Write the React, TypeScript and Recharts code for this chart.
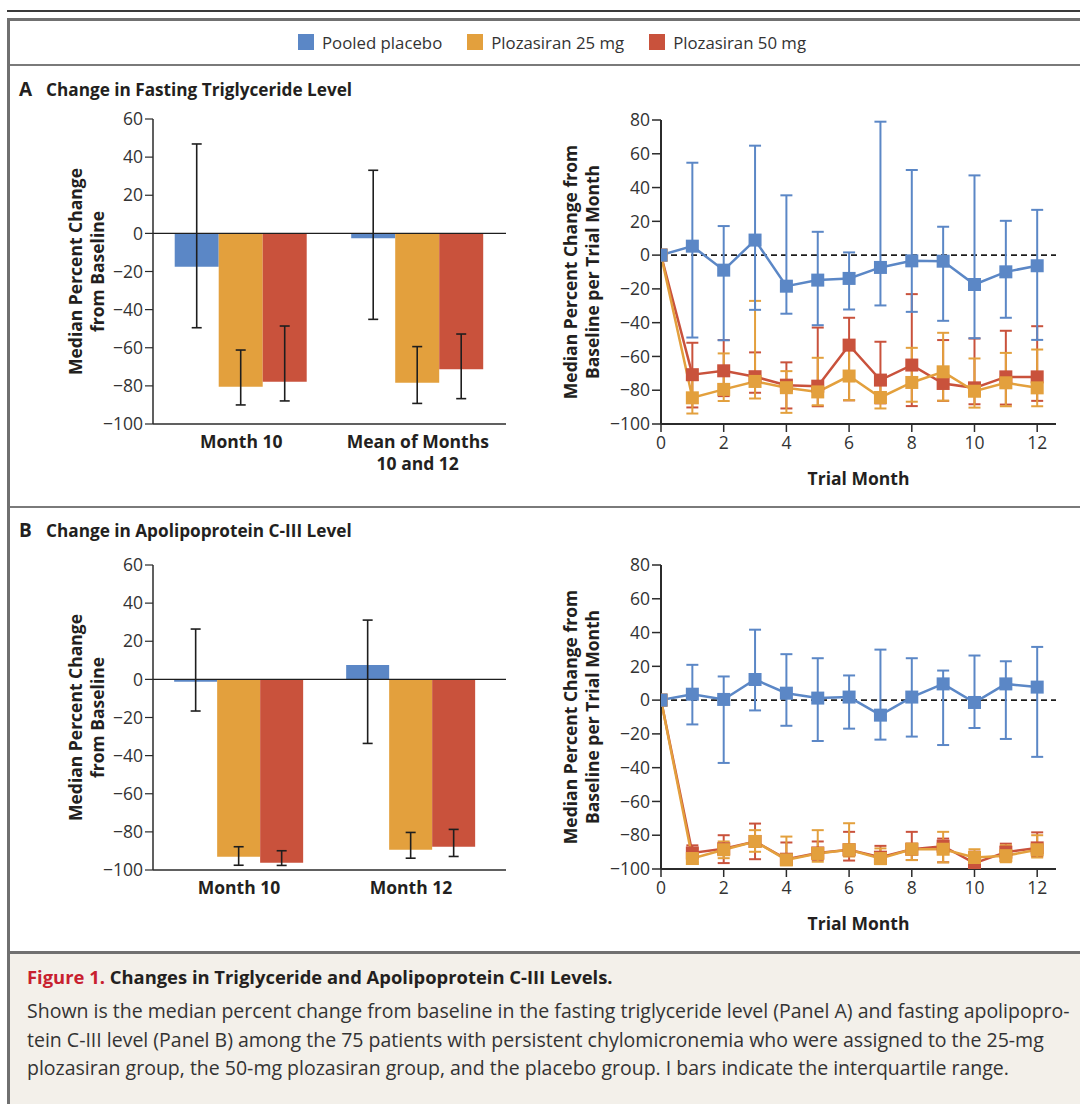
import React from 'react';
import { ComposedChart, Bar, Line, XAxis, YAxis, ErrorBar, ReferenceLine } from 'recharts';

// ---------------- data ----------------
const seriesNames = ['Pooled placebo', 'Plozasiran 25 mg', 'Plozasiran 50 mg'];

// Panel A – bars (median % change, interquartile range)
const barCatsA = ['Month 10', 'Mean of Months\n10 and 12'];
const barA_placebo = [-17.5, -2.5];
const barA_placeboQ1 = [-49.5, -45.1];
const barA_placeboQ3 = [46.9, 33.1];
const barA_25 = [-80.4, -78.3];
const barA_25Q1 = [-90, -89.2];
const barA_25Q3 = [-61.2, -59.4];
const barA_50 = [-77.8, -71.3];
const barA_50Q1 = [-87.9, -86.7];
const barA_50Q3 = [-48.6, -52.8];

// Panel B – bars
const barCatsB = ['Month 10', 'Month 12'];
const barB_placebo = [-1.2, 7.5];
const barB_placeboQ1 = [-16.6, -33.6];
const barB_placeboQ3 = [26.4, 31.1];
const barB_25 = [-93.1, -89.4];
const barB_25Q1 = [-97.5, -93.8];
const barB_25Q3 = [-87.8, -80.3];
const barB_50 = [-96.2, -87.8];
const barB_50Q1 = [-97.6, -92.9];
const barB_50Q3 = [-89.9, -78.7];

// Trial months
const months = [0, 1, 2, 3, 4, 5, 6, 7, 8, 9, 10, 11, 12];
const monthTicks = [0, 2, 4, 6, 8, 10, 12];

// Panel A – lines
const lineA_placebo = [0, 5.3, -8.9, 8.9, -18.4, -14.8, -13.8, -7.3, -3.4, -3.6, -17.4, -9.9, -6.3];
const lineA_placeboQ1 = [null, -48.8, -50.4, -32.4, -34.7, -41.5, -32.2, -29.8, -33.6, -38.9, -49.2, -37.1, -50.2];
const lineA_placeboQ3 = [null, 54.7, 17.2, 64.8, 35.4, 13.8, 1.6, 79, 50.4, 16.8, 47.2, 20.3, 26.8];
const lineA_25 = [0, -84.5, -79.5, -74.8, -78.5, -81, -71.6, -84.3, -75.4, -69.1, -80.6, -75.6, -78.6];
const lineA_25Q1 = [null, -93.8, -86.4, -84.9, -93.4, -88.9, -85.9, -90.8, -86.8, -86.2, -90.3, -89.5, -89.5];
const lineA_25Q3 = [null, -74, -58.2, -27.1, -68.7, -60.8, -55.3, -76, -54.9, -46, -61.2, -57.9, -55.9];
const lineA_50 = [0, -70.8, -68.5, -72, -77, -77.6, -53.3, -74, -65.1, -76, -78.6, -72.1, -72.1];
const lineA_50Q1 = [null, -90.2, -83.5, -81.5, -90.8, -89.5, -86, -87.8, -89.4, -86.3, -88.3, -88.5, -86.3];
const lineA_50Q3 = [null, -51.9, -50.3, -57.6, -63.5, -42.9, -37.1, -51.3, -23.1, -50.3, -49.4, -44.8, -42.1];

// Panel B – lines
const lineB_placebo = [0, 3.5, 0.4, 12.2, 4.1, 1.2, 1.8, -8.9, 1.8, 9.6, -1.4, 9.6, 7.7];
const lineB_placeboQ1 = [null, -14.4, -37.2, -6.1, -15.2, -24.2, -16.9, -23.4, -21.6, -26.6, -16.5, -23, -33.6];
const lineB_placeboQ3 = [null, 20.9, 14, 41.7, 27.2, 24.8, 14.6, 29.9, 24.8, 17.5, 26.4, 23, 31.5];
const lineB_25 = [0, -93.8, -88.6, -83.7, -94.6, -90.8, -88.6, -93.8, -88.3, -88.3, -93.2, -92.1, -88.6];
const lineB_25Q1 = [null, -97, -93.6, -89.8, -97.7, -95.7, -92.6, -97.1, -94.7, -96.1, -97.7, -96, -93.2];
const lineB_25Q3 = [null, -88, -83.7, -77, -80.8, -77, -72.9, -87.8, -85, -78, -88.3, -86, -80];
const lineB_50 = [0, -90.5, -88, -83.7, -94.2, -90.5, -88.6, -93, -88.3, -86.5, -96.5, -90, -87.5];
const lineB_50Q1 = [null, -96, -96.5, -94.2, -97.5, -94.6, -95, -97, -94.7, -96, -98.5, -95, -92.5];
const lineB_50Q3 = [null, -86, -80, -73.1, -84.3, -83.7, -78, -86.3, -78, -82, -89.7, -85, -78.3];

const barTicks = [-100, -80, -60, -40, -20, 0, 20, 40, 60];
const lineTicks = [-100, -80, -60, -40, -20, 0, 20, 40, 60, 80];

// ---------------- styles ----------------
const FONT = '"Open Sans", "Noto Sans", sans-serif';
const C_BLUE = '#5b87c6';
const C_ORANGE = '#e3a03d';
const C_RED = '#c9523c';
const TEXT = '#231f20';
const AXIS = '#2b2b2b';
const LABEL_SIZE = 17.5;

// ---------------- builders ----------------
const err = (v: number, q1: number | null, q3: number | null) =>
  q1 == null || q3 == null ? null : [v - q1, q3 - v];

const buildBars = (cats: string[], p: number[], pq1: number[], pq3: number[], a: number[], aq1: number[], aq3: number[], b: number[], bq1: number[], bq3: number[]) =>
  cats.map((cat, i) => ({
    cat,
    placebo: p[i], placeboErr: err(p[i], pq1[i], pq3[i]),
    d25: a[i], d25Err: err(a[i], aq1[i], aq3[i]),
    d50: b[i], d50Err: err(b[i], bq1[i], bq3[i]),
  }));

const buildLines = (p: number[], pq1: (number | null)[], pq3: (number | null)[], a: number[], aq1: (number | null)[], aq3: (number | null)[], b: number[], bq1: (number | null)[], bq3: (number | null)[]) =>
  months.map((m, i) => ({
    month: m,
    placebo: p[i], placeboErr: err(p[i], pq1[i], pq3[i]),
    d25: a[i], d25Err: err(a[i], aq1[i], aq3[i]),
    d50: b[i], d50Err: err(b[i], bq1[i], bq3[i]),
  }));

const barDataA = buildBars(barCatsA, barA_placebo, barA_placeboQ1, barA_placeboQ3, barA_25, barA_25Q1, barA_25Q3, barA_50, barA_50Q1, barA_50Q3);
const barDataB = buildBars(barCatsB, barB_placebo, barB_placeboQ1, barB_placeboQ3, barB_25, barB_25Q1, barB_25Q3, barB_50, barB_50Q1, barB_50Q3);
const lineDataA = buildLines(lineA_placebo, lineA_placeboQ1, lineA_placeboQ3, lineA_25, lineA_25Q1, lineA_25Q3, lineA_50, lineA_50Q1, lineA_50Q3);
const lineDataB = buildLines(lineB_placebo, lineB_placeboQ1, lineB_placeboQ3, lineB_25, lineB_25Q1, lineB_25Q3, lineB_50, lineB_50Q1, lineB_50Q3);

const fmt = (v: any) => String(v).replace('-', '\u2212');

const tickStyle = { fontSize: 17.5, fill: '#333', fontFamily: FONT };

const CategoryTick = (props: any) => {
  const { x, y, payload } = props;
  const lines = String(payload.value).split('\n');
  return (
    <g>
      {lines.map((l, i) => (
        <text key={i} x={x} y={y + 17 + i * 22} textAnchor="middle" dominantBaseline="central"
          fontSize={LABEL_SIZE} fontWeight={700} fill={TEXT} fontFamily={FONT}>{l}</text>
      ))}
    </g>
  );
};

const makeYLabel = (lines: string[], dxs: number[]) => (props: any) => {
  const vb = props.viewBox || {};
  const cy = (vb.y ?? 0) + (vb.height ?? 0) / 2;
  return (
    <g>
      {lines.map((l, i) => {
        const x = (vb.x ?? 0) + dxs[i];
        return (
          <text key={i} x={x} y={cy} transform={`rotate(-90 ${x} ${cy})`} textAnchor="middle"
            dominantBaseline="central" fontSize={LABEL_SIZE} fontWeight={700} fill={TEXT} fontFamily={FONT}>{l}</text>
        );
      })}
    </g>
  );
};

const xLabel = (text: string) => (props: any) => {
  const vb = props.viewBox || {};
  const cx = (vb.x ?? 0) + (vb.width ?? 0) / 2;
  return (
    <text x={cx} y={(vb.y ?? 0) + 54} textAnchor="middle" dominantBaseline="central"
      fontSize={LABEL_SIZE} fontWeight={700} fill={TEXT} fontFamily={FONT}>{text}</text>
  );
};

const squareDot = (color: string) => (p: any) => {
  if (p.cx == null || p.cy == null) return <g key={`e-${p.index}`} />;
  return <rect key={`sq-${p.index}`} x={p.cx - 6.5} y={p.cy - 6.5} width={13} height={13} fill={color} />;
};

const BarPanel = ({ data, padRight }: { data: any[]; padRight: number }) => (
  <ComposedChart width={540} height={380} data={data} margin={{ top: 19, right: 34, left: 103, bottom: 0 }}
    barCategoryGap="12.3%" barGap={0}>
    <XAxis dataKey="cat" type="category" height={56} tickLine={false} tickSize={0} tickMargin={0}
      tick={<CategoryTick />} axisLine={{ stroke: AXIS, strokeWidth: 1.5 }} padding={{ left: 0, right: padRight }}
      interval={0} />
    <YAxis type="number" domain={[-100, 60]} ticks={barTicks} allowDataOverflow width={50}
      tickFormatter={fmt} tick={tickStyle} tickSize={8} tickMargin={2}
      axisLine={{ stroke: AXIS, strokeWidth: 1.5 }} tickLine={{ stroke: AXIS, strokeWidth: 1.2 }}
      label={{ content: makeYLabel(['Median Percent Change', 'from Baseline'], [-28, -6]) }} />
    <Bar dataKey="placebo" name={seriesNames[0]} fill={C_BLUE} isAnimationActive={false}>
      <ErrorBar dataKey="placeboErr" direction="y" width={5} stroke="#1e1e1e" strokeWidth={1.6} />
    </Bar>
    <Bar dataKey="d25" name={seriesNames[1]} fill={C_ORANGE} isAnimationActive={false}>
      <ErrorBar dataKey="d25Err" direction="y" width={5} stroke="#1e1e1e" strokeWidth={1.6} />
    </Bar>
    <Bar dataKey="d50" name={seriesNames[2]} fill={C_RED} isAnimationActive={false}>
      <ErrorBar dataKey="d50Err" direction="y" width={5} stroke="#1e1e1e" strokeWidth={1.6} />
    </Bar>
    <ReferenceLine y={0} stroke="#1e1e1e" strokeWidth={1.4} />
  </ComposedChart>
);

const LinePanel = ({ data }: { data: any[] }) => (
  <ComposedChart width={540} height={400} data={data} margin={{ top: 20, right: 24, left: 61, bottom: 0 }}>
    <XAxis dataKey="month" type="number" domain={[0, 12.6]} ticks={monthTicks} allowDataOverflow height={76}
      tick={tickStyle} tickSize={8} tickMargin={5}
      axisLine={{ stroke: AXIS, strokeWidth: 2 }} tickLine={{ stroke: AXIS, strokeWidth: 1.5 }}
      label={{ content: xLabel('Trial Month') }} />
    <YAxis type="number" domain={[-100, 80]} ticks={lineTicks} allowDataOverflow width={60}
      tickFormatter={fmt} tick={tickStyle} tickSize={9} tickMargin={2}
      axisLine={{ stroke: AXIS, strokeWidth: 2 }} tickLine={{ stroke: AXIS, strokeWidth: 1.5 }}
      label={{ content: makeYLabel(['Median Percent Change from', 'Baseline per Trial Month'], [-31, -9]) }} />
    <ReferenceLine y={0} stroke="#1e1e1e" strokeWidth={1.6} strokeDasharray="6 4" />
    <Line dataKey="d50" name={seriesNames[2]} stroke={C_RED} strokeWidth={2.5} isAnimationActive={false}
      dot={squareDot(C_RED)} activeDot={false}>
      <ErrorBar dataKey="d50Err" direction="y" width={6} stroke={C_RED} strokeWidth={2} />
    </Line>
    <Line dataKey="d25" name={seriesNames[1]} stroke={C_ORANGE} strokeWidth={2.5} isAnimationActive={false}
      dot={squareDot(C_ORANGE)} activeDot={false}>
      <ErrorBar dataKey="d25Err" direction="y" width={6} stroke={C_ORANGE} strokeWidth={2} />
    </Line>
    <Line dataKey="placebo" name={seriesNames[0]} stroke={C_BLUE} strokeWidth={2.5} isAnimationActive={false}
      dot={squareDot(C_BLUE)} activeDot={false}>
      <ErrorBar dataKey="placeboErr" direction="y" width={6} stroke={C_BLUE} strokeWidth={2} />
    </Line>
  </ComposedChart>
);

const abs = (left: number, top: number, extra: React.CSSProperties = {}): React.CSSProperties => ({
  position: 'absolute', left, top, ...extra,
});

const panelTitle = (letter: string, text: string, top: number) => (
  <div style={abs(19, top, { display: 'flex', alignItems: 'center', height: 24, fontFamily: FONT, color: TEXT, fontWeight: 700, whiteSpace: 'nowrap' })}>
    <span style={{ fontSize: 19, width: 27 }}>{letter}</span>
    <span style={{ fontSize: 17.2 }}>{text}</span>
  </div>
);

const legendColors = [C_BLUE, C_ORANGE, C_RED];

export default function App() {
  return (
    <div style={{ position: 'absolute', left: 0, top: 0, width: 1080, height: 1104, overflow: 'hidden', background: '#fff', fontFamily: FONT }}>
      {/* frame */}
      <div style={abs(7, 10, { width: 1080, height: 1.6, background: '#3a3a3a' })} />
      <div style={abs(7, 18, { width: 1100, height: 1100, borderLeft: '3px solid #707070', borderTop: '3px solid #707070' })} />
      <div style={abs(10, 64, { width: 1080, height: 2, background: '#7a7a7a' })} />
      <div style={abs(10, 506, { width: 1080, height: 2, background: '#7a7a7a' })} />
      <div style={abs(10, 954, { width: 1080, height: 160, background: '#f3f0ea' })} />
      <div style={abs(10, 951, { width: 1080, height: 3, background: '#707070' })} />

      {/* legend */}
      <div style={abs(298, 30, { display: 'flex', alignItems: 'center', height: 24, gap: 25, fontSize: 16.8, color: '#333', whiteSpace: 'nowrap' })}>
        {seriesNames.map((n, i) => (
          <div key={n} style={{ display: 'flex', alignItems: 'center' }}>
            <div style={{ width: 16, height: 16, background: legendColors[i], marginRight: 8 }} />
            <span>{n}</span>
          </div>
        ))}
      </div>

      {panelTitle('A', 'Change in Fasting Triglyceride Level', 77)}
      {panelTitle('B', 'Change in Apolipoprotein C-III Level', 518)}

      <div style={abs(0, 100)}><BarPanel data={barDataA} padRight={0} /></div>
      <div style={abs(540, 100)}><LinePanel data={lineDataA} /></div>
      <div style={abs(0, 546)}><BarPanel data={barDataB} padRight={9} /></div>
      <div style={abs(540, 545)}><LinePanel data={lineDataB} /></div>

      {/* caption */}
      <div style={abs(27, 964, { fontSize: 18.4, fontWeight: 700, color: TEXT, whiteSpace: 'nowrap', lineHeight: '26px' })}>
        <span style={{ color: '#c8202f' }}>Figure 1.</span> Changes in Triglyceride and Apolipoprotein C-III Levels.
      </div>
      <div style={abs(27, 997, { fontSize: 19.5, color: '#333', whiteSpace: 'nowrap', lineHeight: '28.5px' })}>
        <div>Shown is the median percent change from baseline in the fasting triglyceride level (Panel A) and fasting apolipopro-</div>
        <div>tein C-III level (Panel B) among the 75 patients with persistent chylomicronemia who were assigned to the 25-mg</div>
        <div>plozasiran group, the 50-mg plozasiran group, and the placebo group. I bars indicate the interquartile range.</div>
      </div>
    </div>
  );
}
